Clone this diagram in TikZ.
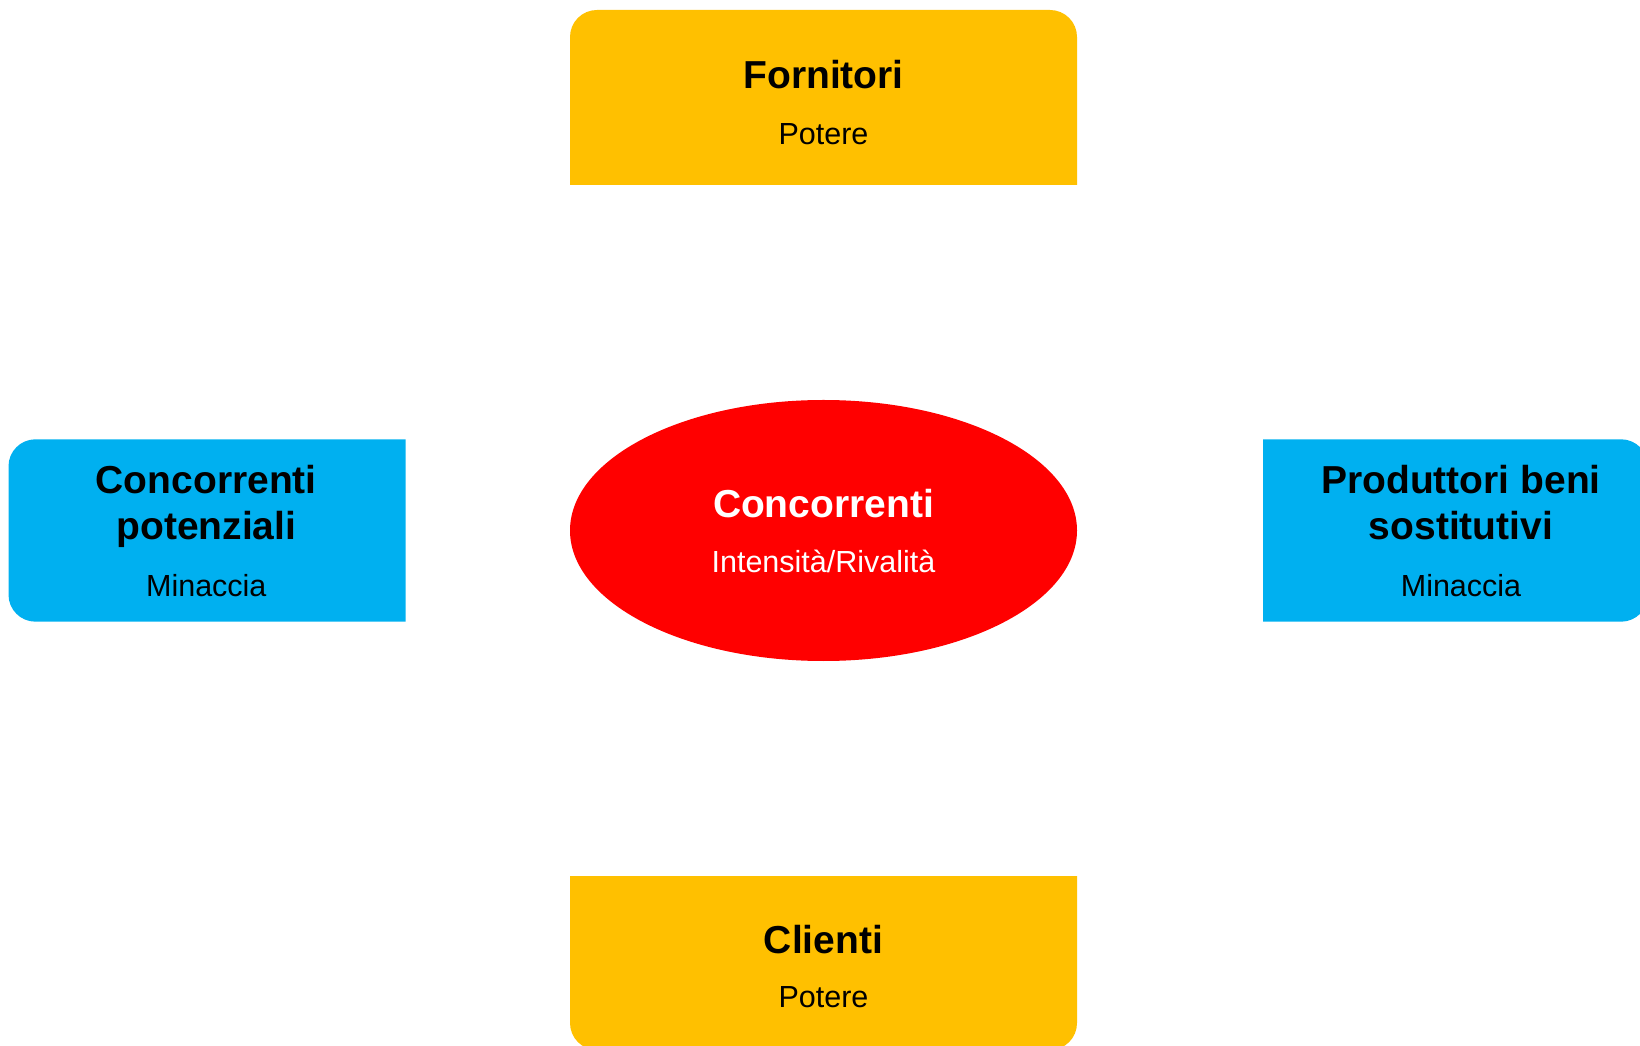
\documentclass[tikz,border=0pt]{standalone}
\usepackage{fontspec}
\setmainfont{Liberation Sans}
\usetikzlibrary{shapes.geometric}
\definecolor{amber}{HTML}{FFC000}
\definecolor{sky}{HTML}{00B0F0}
\definecolor{scarlet}{HTML}{FF0000}
\begin{document}
\begin{tikzpicture}[x=1pt,y=1pt,
  head/.style={font=\fontsize{39}{46}\selectfont\bfseries, anchor=base, inner sep=0pt},
  sub/.style={font=\fontsize{30.5}{35}\selectfont, anchor=base, inner sep=0pt}]
\useasboundingbox (0,0) rectangle (1640,1045);

% suppliers (top), rounded on top
\fill[amber] (570,860) -- (570,1008) arc[start angle=180,end angle=90,radius=27pt]
  -- (1050,1035) arc[start angle=90,end angle=0,radius=27pt] -- (1077,860) -- cycle;
% customers (bottom), rounded at the bottom
\fill[amber] (570,169) -- (1077,169) -- (1077,22) arc[start angle=0,end angle=-90,radius=27pt]
  -- (597,-5) arc[start angle=270,end angle=180,radius=27pt] -- cycle;
% potential entrants (left), rounded on the left
\fill[sky] (405.5,423.3) -- (35.5,423.3) arc[start angle=270,end angle=180,radius=27pt]
  -- (8.5,578.7) arc[start angle=180,end angle=90,radius=27pt] -- (405.5,605.7) -- cycle;
% substitutes (right), rounded on the right
\fill[sky] (1263,423.3) -- (1263,605.7) -- (1621,605.7) arc[start angle=90,end angle=0,radius=27pt]
  -- (1648,450.3) arc[start angle=0,end angle=-90,radius=27pt] -- cycle;

% rivalry among competitors (centre)
\node[ellipse, fill=scarlet, inner sep=0pt, minimum width=507pt, minimum height=261pt] (core) at (823.5,514.5) {};

% labels
\node[head] (fornT) at (823.5,956.7) {Fornitori};
\node[sub]  (fornS) at (823.5,900) {Potere};

\node[head, text=white] (coreT) at (823.5,527.5) {Concorrenti};
\node[sub, text=white]  (coreS) at (823.5,472.3) {Intensità/Rivalità};

\node[head] (potT1) at (206.3,551) {Concorrenti};
\node[head] (potT2) at (206.3,505) {potenziali};
\node[sub]  (potS)  at (206.3,448.3) {Minaccia};

\node[head] (subT1) at (1461,551) {Produttori beni};
\node[head] (subT2) at (1461,505) {sostitutivi};
\node[sub]  (subS)  at (1461,448.3) {Minaccia};

\node[head] (cliT) at (823.5,92) {Clienti};
\node[sub]  (cliS) at (823.5,38) {Potere};
\end{tikzpicture}
\end{document}
